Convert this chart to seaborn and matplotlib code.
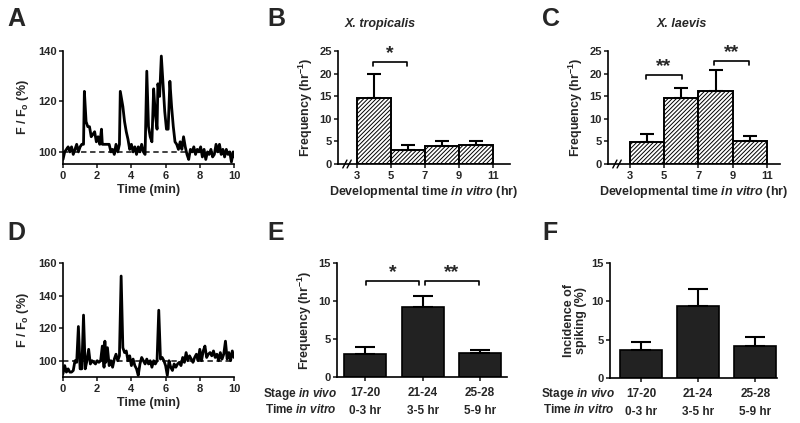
import numpy as np
import pandas as pd
import seaborn as sns
import matplotlib.pyplot as plt

# panel A trace (X. tropicalis example cell)
trace_a_time = [0.0, 0.1, 0.2, 0.3, 0.4, 0.5, 0.6, 0.7, 0.8, 0.9, 1.0, 1.1, 1.2, 1.25, 1.35, 1.45,
                1.55, 1.65, 1.75, 1.85, 1.95, 2.05, 2.15, 2.25, 2.3, 2.4, 2.5, 2.6, 2.7, 2.8, 2.9,
                3.0, 3.1, 3.2, 3.3, 3.35, 3.5, 3.6, 3.7, 3.8, 3.9, 4.0, 4.1, 4.2, 4.3, 4.4, 4.5,
                4.6, 4.7, 4.8, 4.9, 5.0, 5.1, 5.2, 5.3, 5.4, 5.5, 5.55, 5.65, 5.75, 5.85, 5.95,
                6.05, 6.15, 6.25, 6.35, 6.45, 6.55, 6.65, 6.75, 6.85, 6.95, 7.05, 7.15, 7.25, 7.35,
                7.45, 7.55, 7.65, 7.75, 7.85, 7.95, 8.05, 8.15, 8.25, 8.35, 8.45, 8.55, 8.65, 8.75,
                8.85, 8.95, 9.05, 9.15, 9.25, 9.35, 9.45, 9.55, 9.65, 9.75, 9.85, 9.95, 10.0]
trace_a_value = [97, 100, 101, 102, 100, 102, 99, 101, 103, 100, 102, 103, 103, 124, 112, 110,
                 110, 106, 107, 108, 104, 106, 103, 109, 103, 103, 103, 103, 103, 100, 101,
                 99, 103, 100, 103, 124, 118, 112, 108, 105, 101, 103, 100, 102, 99, 102, 100,
                 103, 100, 99, 132, 110, 106, 104, 125, 115, 109, 127, 122, 138, 127, 116,
                 109, 109, 128, 118, 110, 104, 103, 101, 104, 101, 106, 102, 99, 97,
                 101, 100, 102, 99, 101, 100, 102, 98, 101, 97, 100, 99, 101, 98,
                 99, 103, 100, 103, 99, 101, 98, 101, 99, 100, 96, 100, 98]

# panel D trace (X. laevis example cell)
trace_d_time = [0.0, 0.1, 0.2, 0.3, 0.4, 0.5, 0.6, 0.7, 0.8, 0.9, 1.0, 1.1, 1.2, 1.3, 1.4, 1.5,
                1.6, 1.7, 1.8, 1.9, 2.0, 2.1, 2.2, 2.3, 2.4, 2.45, 2.5, 2.6, 2.7, 2.8, 2.9, 3.0,
                3.1, 3.2, 3.3, 3.4, 3.5, 3.6, 3.7, 3.8, 3.9, 4.0, 4.1, 4.2, 4.3, 4.4, 4.5, 4.6,
                4.7, 4.8, 4.9, 5.0, 5.1, 5.2, 5.3, 5.4, 5.5, 5.6, 5.7, 5.8, 5.9, 6.0, 6.1, 6.2,
                6.3, 6.4, 6.5, 6.6, 6.7, 6.8, 6.9, 7.0, 7.1, 7.2, 7.3, 7.4, 7.5, 7.6, 7.7, 7.8,
                7.9, 8.0, 8.1, 8.2, 8.3, 8.4, 8.5, 8.6, 8.7, 8.8, 8.9, 9.0, 9.1, 9.2, 9.3, 9.4,
                9.5, 9.6, 9.7, 9.8, 9.9, 10.0]
trace_d_value = [92, 97, 93, 95, 93, 93, 94, 100, 99, 121, 95, 95, 128, 95, 100, 107,
                 98, 100, 99, 98, 100, 99, 100, 109, 96, 112, 99, 108, 97, 100, 96, 101,
                 104, 100, 103, 152, 108, 105, 106, 100, 103, 97, 101, 97, 95, 91, 98, 102,
                 100, 98, 101, 98, 100, 96, 100, 98, 100, 131, 101, 102, 100, 97, 91, 100,
                 96, 94, 98, 96, 98, 99, 97, 102, 99, 105, 100, 103, 101, 99, 102, 104,
                 100, 107, 100, 106, 109, 102, 104, 105, 103, 106, 102, 104, 100, 105, 101, 104,
                 112, 101, 105, 100, 106, 102]

# panels B and C: developmental time in vitro (hr)
dev_hours = [4, 6, 8, 10]
tropicalis_freq = [14.5, 3.1, 3.9, 4.2]
tropicalis_sem = [5.5, 1.2, 1.2, 0.9]
laevis_freq = [4.9, 14.5, 16.2, 5.1]
laevis_sem = [1.7, 2.3, 4.5, 1.0]

# panels E and F
stage_labels = ['17-20', '21-24', '25-28']
vitro_labels = ['0-3 hr', '3-5 hr', '5-9 hr']
stage_freq = [3.0, 9.2, 3.2]
stage_freq_sem = [1.0, 1.4, 0.4]
stage_incidence = [3.6, 9.4, 4.2]
stage_incidence_sem = [1.1, 2.2, 1.1]

W, H = 800, 423

sns.set_style('ticks')
plt.rcParams.update({
    'font.family': ['Liberation Sans', 'DejaVu Sans'],
    'font.weight': 'bold',
    'axes.labelweight': 'bold',
    'axes.linewidth': 1.2,
    'axes.edgecolor': 'black',
    'xtick.major.width': 1.2,
    'ytick.major.width': 1.2,
    'xtick.major.size': 3,
    'ytick.major.size': 3,
    'xtick.major.pad': 2,
    'ytick.major.pad': 1.5,
    'xtick.labelsize': 8,
    'ytick.labelsize': 8,
    'axes.labelsize': 9,
    'mathtext.fontset': 'custom',
    'mathtext.default': 'regular',
    'mathtext.it': 'Liberation Sans:italic:bold',
    'mathtext.rm': 'Liberation Sans:bold',
    'hatch.linewidth': 0.7,
})


def px_axes(fig, l, t, r, b):
    return fig.add_axes([l / W, 1 - b / H, (r - l) / W, (b - t) / H])


def style_axes(ax):
    sns.despine(ax=ax)
    for lab in ax.get_xticklabels() + ax.get_yticklabels():
        lab.set_fontweight('bold')


def bracket(ax, x0, x1, y, drop, label, star_y, size=14):
    ax.plot([x0, x0, x1, x1], [y - drop, y, y, y - drop], color='black', lw=1.2, clip_on=False)
    ax.text((x0 + x1) / 2, star_y, label, ha='center', va='center', fontsize=size,
            fontweight='bold', clip_on=False)


def axis_break(ax, xfrac):
    for dx in (0.0, 0.025):
        ax.plot([xfrac + dx - 0.012, xfrac + dx + 0.012], [-0.035, 0.035], color='black',
                lw=1.0, transform=ax.transAxes, clip_on=False)


fig = plt.figure(figsize=(8, 4.23), dpi=100)

# --- A and D: fluorescence traces
for (l, t, r, b), tx, ty, ylim, yt in [((63, 51, 234, 164), trace_a_time, trace_a_value, (95.2, 140), [100, 120, 140]),
                                       ((63, 263, 234, 377), trace_d_time, trace_d_value, (90, 160), [100, 120, 140, 160])]:
    ax = px_axes(fig, l, t, r, b)
    ax.axhline(100, color='#333333', lw=1.3, ls=(0, (3, 2)))
    sns.lineplot(x=tx, y=ty, ax=ax, color='black', lw=2.0)
    ax.set_xlim(0, 10)
    ax.set_ylim(*ylim)
    ax.set_xticks([0, 2, 4, 6, 8, 10])
    ax.set_yticks(yt)
    ax.set_xlabel('Time (min)', labelpad=2)
    ax.set_ylabel('F / F$_o$ (%)', labelpad=5)
    style_axes(ax)

# --- B and C: hatched histograms
for (l, t, r, b), freq, sem, xlim, title, tx in [((338, 51, 510, 164), tropicalis_freq, tropicalis_sem, (1.88, 12.0), 'X. tropicalis', 380),
                                                ((608, 51, 780, 164), laevis_freq, laevis_sem, (1.72, 11.76), 'X. laevis', 682)]:
    ax = px_axes(fig, l, t, r, b)
    sns.barplot(x=dev_hours, y=freq, ax=ax, native_scale=True, width=1.0, errorbar=None,
                color='white', edgecolor='black', linewidth=1.4, zorder=2)
    for p in ax.patches:
        p.set_hatch('////////')
        p.set_facecolor('white')
        p.set_edgecolor('black')
    ax.errorbar(dev_hours, freq, yerr=[np.zeros(len(sem)), sem], fmt='none', ecolor='black',
                elinewidth=1.5, capsize=5, capthick=1.5, zorder=3)
    ax.set_xlim(*xlim)
    ax.set_ylim(0, 25)
    ax.set_xticks([3, 5, 7, 9, 11])
    ax.set_yticks([0, 5, 10, 15, 20, 25])
    ax.set_xlabel(r'Developmental time $\mathit{in\ vitro}$ (hr)', labelpad=2)
    ax.set_ylabel(r'Frequency (hr$^{-1}$)', labelpad=3)
    style_axes(ax)
    axis_break(ax, 0.04)
    fig.text(tx / W, 1 - 24 / H, title, ha='center', va='center', fontsize=9,
             fontweight='bold', style='italic')
    if title == 'X. tropicalis':
        bracket(ax, 3.94, 5.94, 22.6, 0.9, '*', 24.4)
    else:
        bracket(ax, 3.94, 6.04, 19.7, 0.9, '**', 21.5)
        bracket(ax, 7.9, 9.96, 22.8, 0.9, '**', 24.6)

# --- E and F: stage bar charts
cat_labels = [f'{s}\n{v}' for s, v in zip(stage_labels, vitro_labels)]
for (l, t, r, b), vals, sem, xlim, ylab, row_x in [((337, 263, 507, 377), stage_freq, stage_freq_sem, (-0.49, 2.47), r'Frequency (hr$^{-1}$)', 337),
                                                  ((610, 263, 777, 378), stage_incidence, stage_incidence_sem, (-0.54, 2.38), 'Incidence of\nspiking (%)', 615)]:
    ax = px_axes(fig, l, t, r, b)
    sns.barplot(x=cat_labels, y=vals, ax=ax, width=0.73, errorbar=None, color='#222222',
                edgecolor='black', linewidth=1.2, saturation=1, zorder=2)
    ax.errorbar(range(len(vals)), vals, yerr=[np.zeros(len(sem)), sem], fmt='none',
                ecolor='black', elinewidth=1.5, capsize=7, capthick=1.5, zorder=3)
    ax.set_xlim(*xlim)
    ax.set_ylim(0, 15)
    ax.set_yticks([0, 5, 10, 15])
    ax.set_xticks(range(3))
    ax.set_xticklabels(cat_labels, linespacing=1.75)
    ax.tick_params(axis='x', labelsize=8.5, pad=4)
    ax.set_ylabel(ylab, labelpad=3, linespacing=1.0)
    ax.set_xlabel('')
    style_axes(ax)
    fig.text(row_x / W, 1 - 394 / H, r'Stage $\mathit{in\ vivo}$', ha='right', va='center', fontsize=8.5)
    fig.text(row_x / W, 1 - 409 / H, r'Time $\mathit{in\ vitro}$', ha='right', va='center', fontsize=8.5)
    if ylab.startswith('Frequency'):
        bracket(ax, 0.02, 0.94, 12.6, 0.5, '*', 13.8)
        bracket(ax, 1.04, 1.98, 12.6, 0.5, '**', 13.8)

# panel letters
for letter, x, y in [('A', 7, 7), ('B', 267, 7), ('C', 542, 7), ('D', 7, 221), ('E', 267, 221), ('F', 542, 221)]:
    fig.text(x / W, 1 - y / H, letter, ha='left', va='top', fontsize=18, fontweight='bold')

fig.savefig('out.png', dpi=100)
